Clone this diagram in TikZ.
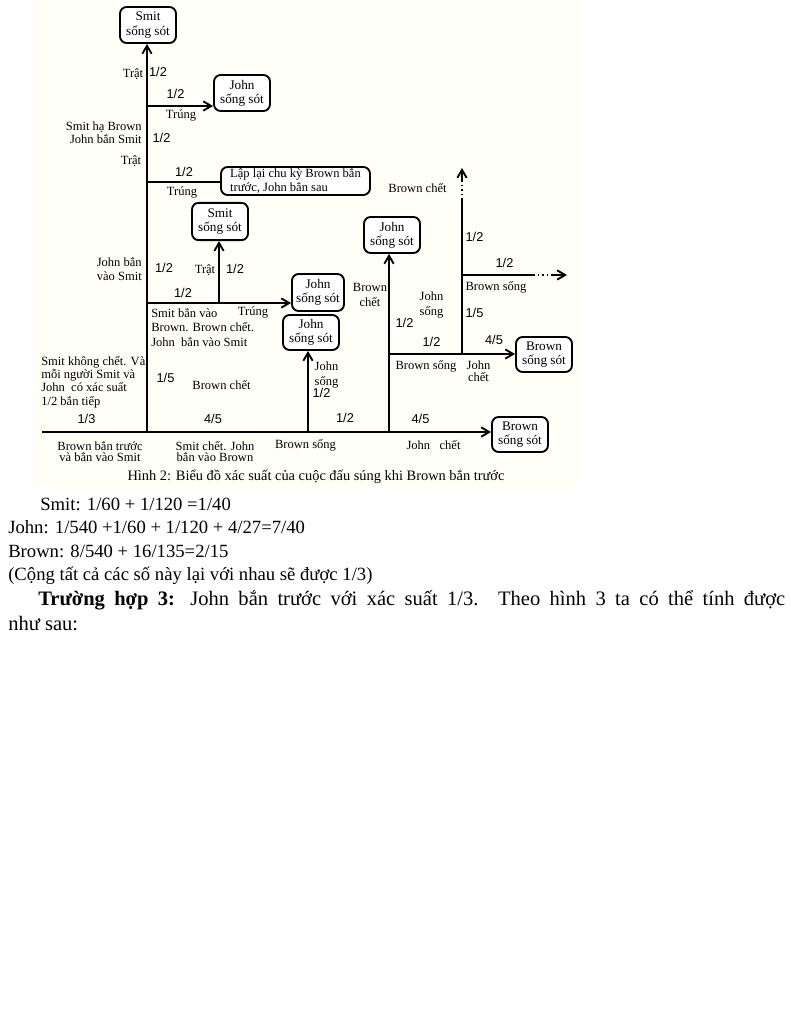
\documentclass[tikz,border=0pt]{standalone}
\usepackage{fontspec}
\setmainfont{Liberation Serif}
\newfontfamily\sansf{Liberation Sans}
\usetikzlibrary{arrows.meta}
\definecolor{diagbg}{RGB}{255,254,247}
\begin{document}
\begin{tikzpicture}[x=0.75pt,y=-0.75pt,
  lbl/.style={font=\fontsize{9.4}{10}\selectfont, inner sep=0pt, align=center},
  lblr/.style={lbl, align=right, anchor=east},
  lbll/.style={lbl, align=left, anchor=west},
  frac/.style={font=\sansf\fontsize{9.6}{11}\selectfont, inner sep=0pt},
  box/.style={draw, line width=1.4pt, rounded corners=5pt, align=center,
    font=\fontsize{9.9}{10.6}\selectfont, inner sep=0pt, fill=white},
  ln/.style={line width=1.4pt},
  arr/.style={ln, -{Straight Barb[length=6pt,width=7pt]}},
  body/.style={font=\fontsize{14}{16}\selectfont, inner sep=0pt, anchor=base west},
  para/.style={font=\fontsize{15.4}{18}\selectfont, inner sep=0pt, anchor=base west},
  captxt/.style={font=\fontsize{10.8}{12}\selectfont, inner sep=0pt}
]
\useasboundingbox (0,0) rectangle (791,1024);
\fill[white] (0,0) rectangle (791,1024);
\fill[diagbg] (35,0) rectangle (578,490);

% boxes
\node[box, minimum width=42pt, minimum height=27pt] (B1) at (148,25) {Smit\\sống sót};
\node[box, minimum width=42pt, minimum height=27pt] (B2) at (242,93) {John\\sống sót};
\node[box, minimum width=111.75pt, minimum height=21pt, align=left, font=\fontsize{9.4}{10.3}\selectfont] (B3) at (295.5,181) {Lập lại chu kỳ Brown bắn\\trước, John bắn sau};
\node[box, minimum width=42pt, minimum height=28pt] (B4) at (220,221.5) {Smit\\sống sót};
\node[box, minimum width=39pt, minimum height=27.75pt] (B5) at (318,292.5) {John\\sống sót};
\node[box, minimum width=42pt, minimum height=26.25pt] (B6) at (311,332.5) {John\\sống sót};
\node[box, minimum width=42pt, minimum height=27pt] (B7) at (392,235) {John\\sống sót};
\node[box, minimum width=42pt, minimum height=26.25pt] (B8) at (544,354.5) {Brown\\sống sót};
\node[box, minimum width=42pt, minimum height=26.25pt] (B9) at (520,434.5) {Brown\\sống sót};

% junction coordinates
\coordinate (s0) at (42,432);
\coordinate (o1) at (147,432);
\coordinate (j1) at (147,106);
\coordinate (j2) at (147,182);
\coordinate (j3) at (147,303);
\coordinate (j4) at (219,303);
\coordinate (j5) at (308,432);
\coordinate (j6) at (389,432);
\coordinate (j7) at (389,354);
\coordinate (j8) at (462,354);
\coordinate (d1) at (462,200);
\coordinate (d2) at (462,182);
\coordinate (j9) at (462,275);
\coordinate (e1) at (533,275);
\coordinate (e2) at (551,275);
\coordinate (e3) at (567,275);
\coordinate (d3) at (462,168);

% connectors
\draw[arr] (s0) -- (s0 -| B9.west);
\draw[arr] (o1) -- (o1 |- B1.south);
\draw[arr] (j1) -- (j1 -| B2.west);
\draw[ln] (j2) -- (j2 -| B3.west);
\draw[arr] (j3) -- (j3 -| B5.west);
\draw[arr] (j4) -- (j4 |- B4.south);
\draw[arr] (j5) -- (j5 |- B6.south);
\draw[arr] (j6) -- (j6 |- B7.south);
\draw[arr] (j7) -- (j7 -| B8.west);
\draw[ln] (j8) -- (d1);
\draw[ln, dotted] (d1) -- (d2);
\draw[arr] (d2) -- (d3);
\draw[ln] (j9) -- (e1);
\draw[ln, dotted] (e1) -- (e2);
\draw[arr] (e2) -- (e3);

% labels
\node[lbl] (l1) at (133,74) {Trật};
\node[frac] (f1) at (158,72) {1/2};
\node[frac] (f2) at (175.5,94) {1/2};
\node[lbl] (l2) at (181,115) {Trúng};
\node[lblr] (l3) at (142,133) {Smit hạ Brown\\John bắn Smit};
\node[frac] (f3) at (161.5,138) {1/2};
\node[lbl] (l4) at (131,161) {Trật};
\node[frac] (f4) at (184,172) {1/2};
\node[lbl] (l5) at (182,192) {Trúng};
\node[lblr, font=\fontsize{9.4}{10.6}\selectfont] (l6) at (142,269) {John bắn\\vào Smit};
\node[frac] (f5) at (164,268) {1/2};
\node[lbl] (l7) at (205,270) {Trật};
\node[frac] (f6) at (235,269) {1/2};
\node[frac] (f7) at (183,293) {1/2};
\node[lbll, font=\fontsize{9.4}{10.9}\selectfont] (l8) at (151,327.5) {Smit bắn vào\\Brown. Brown chết.\\John\ \ bắn vào Smit};
\node[lbl] (l9) at (253,312) {Trúng};
\node[lbl, font=\fontsize{9.4}{10.6}\selectfont] (l10) at (370,295) {Brown\\chết};
\node[lbll] (l11) at (41,382) {Smit không chết. Và\\mỗi người Smit và\\John\ \ có xác suất\\1/2 bắn tiếp};
\node[frac] (f8) at (165.5,378) {1/5};
\node[lbl] (l12) at (221.5,385) {Brown chết};
\node[frac] (f9) at (86.5,419) {1/3};
\node[frac] (f10) at (213,419) {4/5};
\node[lbl, font=\fontsize{9.4}{8.6}\selectfont] (l13) at (100,451.5) {Brown bắn trước\\và bắn vào Smit};
\node[lbl, font=\fontsize{9.4}{8.6}\selectfont] (l14) at (215,451.5) {Smit chết. John\\bắn vào Brown};
\node[lbl] (l15) at (305.5,445) {Brown sống};
\node[lbl, font=\fontsize{9.4}{10.6}\selectfont] (l16) at (326.5,375) {John\\sống};
\node[frac] (f11) at (321.5,393) {1/2};
\node[frac] (f12) at (345,418) {1/2};
\node[frac] (f13) at (420.5,419) {4/5};
\node[lbl] (l17) at (433.5,445) {John\ \ \ chết};
\node[lbl, font=\fontsize{9.4}{11.5}\selectfont] (l18) at (431.5,305) {John\\sống};
\node[frac] (f14) at (404.5,323) {1/2};
\node[frac] (f15) at (431.5,342) {1/2};
\node[lbl] (l19) at (426,366) {Brown sống};
\node[lbl, font=\fontsize{9.4}{9.2}\selectfont] (l20) at (478.5,371) {John\\chết};
\node[frac] (f16) at (494,340) {4/5};
\node[frac] (f17) at (474.5,313) {1/5};
\node[frac] (f18) at (474.5,237) {1/2};
\node[frac] (f19) at (504.5,263) {1/2};
\node[lbl] (l21) at (496,287) {Brown sống};
\node[lbl] (l22) at (417.5,188) {Brown chết};
\node[captxt] (caption) at (316,477) {Hình 2: Biểu đồ xác suất của cuộc đấu súng khi Brown bắn trước};

% body text
\node[body] (t1) at (40,510) {Smit: 1/60 + 1/120 =1/40};
\node[body] (t2) at (8,533.5) {John: 1/540 +1/60 + 1/120 + 4/27=7/40};
\node[body] (t3) at (8,557) {Brown: 8/540 + 16/135=2/15};
\node[body] (t4) at (8,580.5) {(Cộng tất cả các số này lại với nhau sẽ được 1/3)};
\node[para] (t5) at (38,605) {\makebox[560.25pt][s]{\textbf{Trường hợp 3:} John bắn trước với xác suất 1/3. Theo hình 3 ta có thể tính được}};
\node[para] (t6) at (8,630) {như sau:};
\end{tikzpicture}
\end{document}
